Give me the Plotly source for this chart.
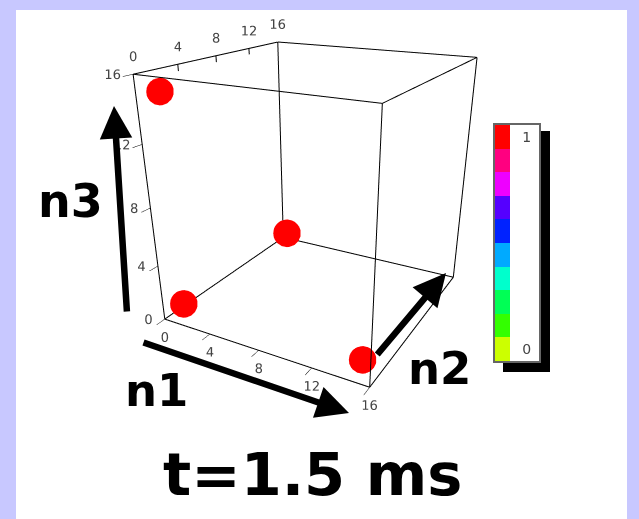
import plotly.graph_objects as go

W, H = 639, 519

# Lattice extent along each axis
axis_range = [0, 16]
tick_vals = [0, 4, 8, 12, 16]

# Occupied lattice sites (one per corner region) and their occupation
site_n1 = [1, 15, 1, 1]
site_n2 = [1, 1, 15, 1]
site_n3 = [1, 1, 1, 15]
occupation = [1, 1, 1, 1]

# Discrete colour levels, from 0 (bottom) to 1 (top)
level_colors = ["#ccff00", "#33ff00", "#00ff55", "#00ffcc", "#00aaff",
                "#0022ff", "#5500ff", "#ee00ff", "#ff0080", "#ff0000"]
cbar_ticks = [0, 1]

title_text = "t=1.5 ms"


def px(x):
    return x / W


def py(y):
    return 1 - y / H


n = len(level_colors)
colorscale = []
for i, c in enumerate(level_colors):
    colorscale.append([i / n, c])
    colorscale.append([(i + 1) / n, c])
half = 1 / (2 * (n - 1))

# Wireframe box built from the axis range
lo, hi = axis_range
corners = [(a, b, c) for a in (lo, hi) for b in (lo, hi) for c in (lo, hi)]
ex, ey, ez = [], [], []
for p in corners:
    for q in corners:
        if p < q and sum(pi != qi for pi, qi in zip(p, q)) == 1:
            ex += [p[0], q[0], None]
            ey += [p[1], q[1], None]
            ez += [p[2], q[2], None]
# n2 tick marks on the upper-left edge
for v in tick_vals:
    ex += [lo, lo, None]
    ey += [v, v, None]
    ez += [hi, hi - 0.4, None]

tick_text = [str(v) for v in tick_vals]
k = len(tick_vals)
tick_font = dict(family="DejaVu Sans", size=13, color="#444")

fig = go.Figure()
fig.add_trace(go.Scatter3d(
    x=ex, y=ey, z=ez, mode="lines",
    line=dict(color="black", width=2),
    hoverinfo="skip", showlegend=False))
# Tick labels: n1 under the lower front edge, n2 on the upper left edge,
# n3 beside the front left edge
for xs, ys, zs, pos in [(tick_vals, [lo] * k, [lo] * k, "bottom center"),
                        ([lo] * k, tick_vals, [hi] * k, "top center"),
                        ([lo] * k, [lo] * k, tick_vals, "middle left")]:
    fig.add_trace(go.Scatter3d(
        x=xs, y=ys, z=zs, mode="text", text=tick_text, textposition=pos,
        textfont=tick_font, hoverinfo="skip", showlegend=False))
fig.add_trace(go.Scatter3d(
    x=site_n1, y=site_n2, z=site_n3, mode="markers",
    marker=dict(size=16, color=occupation, colorscale=colorscale,
                cmin=0 - half, cmax=1 + half, opacity=1,
                line=dict(width=0),
                colorbar=dict(
                    tickvals=cbar_ticks, ticks="outside", ticklen=10,
                    tickcolor="rgba(0,0,0,0)", thickness=15,
                    lenmode="pixels", len=236, x=px(495), xanchor="left",
                    y=py(243), yanchor="middle", xpad=0, ypad=0,
                    bgcolor="rgba(0,0,0,0)", borderwidth=0,
                    outlinewidth=0,
                    tickfont=dict(family="DejaVu Sans", size=14, color="#444"))),
    showlegend=False))

axis_style = dict(
    range=axis_range, tickvals=tick_vals, showbackground=False,
    showgrid=False, zeroline=False, showline=False, ticks="outside",
    ticklen=4, tickcolor="black", title=dict(text=""),
    showticklabels=False, showspikes=False)

fig.update_layout(
    width=W, height=H,
    margin=dict(l=0, r=0, t=0, b=0),
    paper_bgcolor="#c8c8ff",
    scene=dict(
        domain=dict(x=[0.0, 1.0], y=[0.0, 1.0]),
        xaxis=axis_style,
        yaxis=dict(axis_style, ticks=""),
        zaxis=axis_style,
        aspectmode="manual", aspectratio=dict(x=1, y=1, z=1.06),
        bgcolor="rgba(0,0,0,0)",
        camera=dict(eye=dict(x=1.246, y=-2.249, z=0.95),
                    center=dict(x=0.01, y=0, z=-0.33),
                    up=dict(x=0, y=0, z=1))),
    shapes=[
        dict(type="rect", xref="paper", yref="paper", layer="below",
             x0=px(16), x1=px(627), y0=py(519), y1=py(10),
             fillcolor="white", line=dict(width=0)),
        dict(type="rect", xref="paper", yref="paper", layer="below",
             x0=px(503), x1=px(550), y0=py(372), y1=py(131),
             fillcolor="black", line=dict(width=0)),
        dict(type="rect", xref="paper", yref="paper", layer="below",
             x0=px(494), x1=px(540), y0=py(362), y1=py(124),
             fillcolor="white", line=dict(width=2, color="#666666")),
    ],
)

big = dict(family="DejaVu Sans", color="black")
labels = [("n3", 70, 201, 46), ("n1", 156, 390, 45), ("n2", 440, 368, 45),
          (title_text, 312, 474, 59)]
for txt, x, y, s in labels:
    fig.add_annotation(text="<b>%s</b>" % txt, x=px(x), y=py(y),
                       xref="paper", yref="paper", showarrow=False,
                       xanchor="center", yanchor="middle",
                       font=dict(size=s, **big))

arrows = [((114, 106), (127, 313)), ((349, 413), (142, 342)),
          ((446, 273), (376, 356))]
for (tx, ty), (sx, sy) in arrows:
    fig.add_annotation(x=px(tx), y=py(ty), xref="paper", yref="paper",
                       ax=sx - tx, ay=sy - ty, text="", showarrow=True,
                       arrowhead=2, arrowwidth=6.5, arrowsize=1,
                       arrowcolor="black", standoff=0)

fig.write_html("out.html")
